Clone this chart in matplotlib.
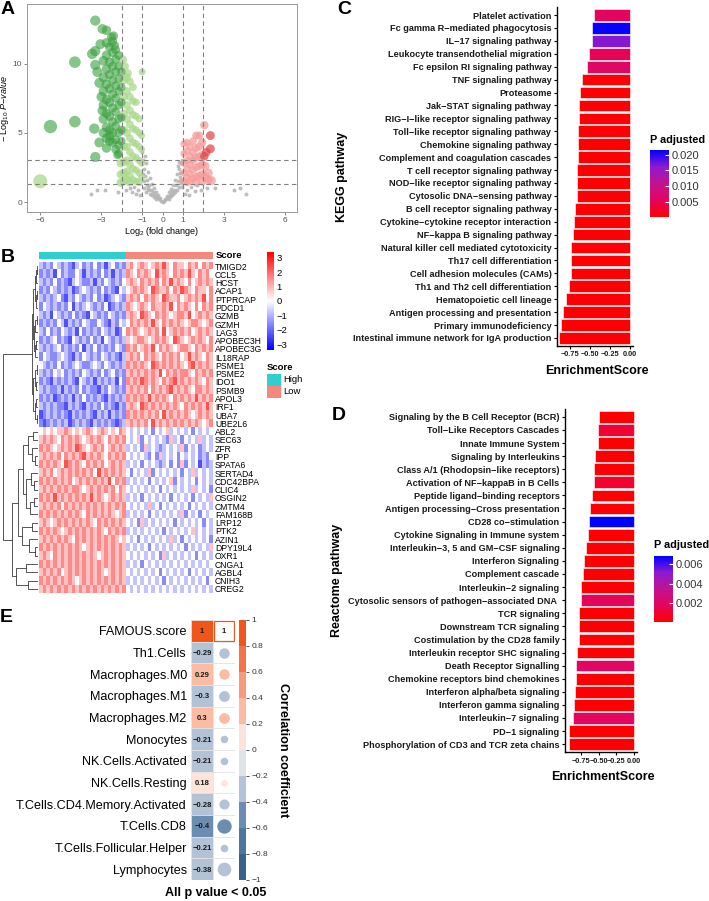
import numpy as np
import matplotlib
matplotlib.use('Agg')
import matplotlib.pyplot as plt
from matplotlib.colors import LinearSegmentedColormap, ListedColormap, Normalize, BoundaryNorm
import matplotlib.colorbar as mcolorbar
from matplotlib.patches import Rectangle

plt.rcParams['font.family'] = ['Liberation Sans', 'DejaVu Sans']
plt.rcParams['mathtext.fontset'] = 'custom'
plt.rcParams['mathtext.rm'] = 'Liberation Sans'
plt.rcParams['mathtext.it'] = 'Liberation Sans:italic'

W, H = 709, 901

# ---------------- data: A volcano ----------------
dark_x = [-3.3, -2.95, -2.75, -3.05, -3.45, -3.3, -4.3, -3.3, -3.2, -5.5, -4.3, -3.35, -3.1, -3.3, -2.95, -3.0, -3.1,
          -2.2, -2.3, -2.6, -2.5, -2.35, -2.4,
          -2.9, -2.9, -2.9, -2.9, -2.9, -2.9,
          -2.75, -2.75, -2.75, -2.75, -2.75, -2.75, -2.75, -2.75, -2.75,
          -2.6, -2.6, -2.6, -2.6, -2.6, -2.6, -2.6, -2.6,
          -2.45, -2.45, -2.45, -2.45, -2.45, -2.45, -2.45, -2.45, -2.45,
          -2.3, -2.3, -2.3, -2.3, -2.3, -2.3, -2.3, -2.3,
          -2.15, -2.15, -2.15, -2.15, -2.15, -2.15, -2.15, -2.15, -2.15,
          -2.02, -2.02, -2.02, -2.02, -2.02, -2.02]
dark_y = [13.1, 12.5, 12.4, 11.4, 10.7, 10.9, 10.1, 9.9, 9.4, 5.45, 5.8, 5.3, 4.3, 3.25, 6.6, 7.6, 8.6,
          3.4, 3.8, 4.4, 11.9, 11.3, 12.0,
          10.2, 9.0, 8.0, 7.0, 6.0, 5.0,
          11.5, 10.6, 9.6, 8.5, 7.4, 6.4, 5.4, 4.6, 3.9,
          11.2, 10.1, 9.2, 8.2, 7.2, 6.2, 5.2, 4.8,
          11.6, 10.8, 9.8, 8.8, 7.8, 6.8, 5.8, 5.0, 4.3,
          11.0, 10.3, 9.4, 8.4, 7.5, 6.5, 5.5, 4.5,
          10.6, 9.8, 8.9, 8.0, 7.0, 6.0, 5.0, 4.1, 3.5,
          9.4, 8.3, 7.2, 6.1, 5.2, 4.4]
light_x = [-6.0, -1.95, -1.0, -1.85, -1.7,
           -1.9, -1.9, -1.9, -1.9, -1.9, -1.9, -1.9, -1.9,
           -1.75, -1.75, -1.75, -1.75, -1.75, -1.75, -1.75, -1.75, -1.75,
           -1.6, -1.6, -1.6, -1.6, -1.6, -1.6, -1.6, -1.6, -1.6,
           -1.45, -1.45, -1.45, -1.45, -1.45, -1.45, -1.45, -1.45,
           -1.3, -1.3, -1.3, -1.3, -1.3, -1.3, -1.3,
           -1.15, -1.15, -1.15, -1.15, -1.15, -1.15,
           -1.03, -1.03, -1.03, -1.03,
           -2.05, -2.05, -2.05]
light_y = [1.5, 10.3, 9.4, 9.8, 9.3,
           8.8, 7.6, 6.4, 5.2, 4.0, 2.9, 2.1, 1.5,
           9.0, 8.0, 7.0, 6.0, 5.0, 4.0, 3.0, 2.2, 1.6,
           8.7, 7.6, 6.6, 5.6, 4.6, 3.6, 2.7, 1.9, 1.4,
           8.3, 7.3, 6.3, 5.3, 4.3, 3.3, 2.4, 1.6,
           7.2, 6.2, 5.2, 4.2, 3.2, 2.3, 1.5,
           6.0, 5.0, 4.0, 3.0, 2.1, 1.4,
           4.8, 3.8, 2.8, 1.8,
           2.8, 2.0, 1.4]
grey_x = [-1.0, -0.95, -0.9, -0.85, -0.8, -0.75, -0.7, -0.65, -0.6, -0.55, -0.5, -0.45, -0.4, -0.35, -0.3,
          -0.25, -0.2, -0.15, -0.1, -0.05, 0.0, 0.05, 0.1, 0.15, 0.2, 0.25, 0.3, 0.35, 0.4, 0.45, 0.5,
          0.55, 0.6, 0.65, 0.7, 0.75, 0.8, 0.85, 0.9, 0.95, 0.98,
          -0.9, -0.8, -0.7, -0.6, -0.5, -0.4, -0.3, 0.3, 0.4, 0.5, 0.6, 0.7, 0.8, 0.9,
          -0.97, -0.92, -0.88, -0.78, -0.72, 0.75, 0.82, 0.88, 0.93, 0.96,
          -1.2, -1.4, -1.6, -1.3, -1.8, -1.1, -1.5, 1.2, 1.4, 1.6, 1.9, 2.2, 1.1, 1.3, 1.7,
          -3.2, -2.8, -2.2, -3.5, 2.6, 3.5, 3.8, 4.1]
grey_y = [3.6, 3.0, 2.4, 1.9, 2.8, 1.6, 2.2, 1.2, 1.7, 0.9, 1.3, 0.7, 1.0, 0.5, 0.7,
          0.35, 0.5, 0.2, 0.3, 0.1, 0.02, 0.1, 0.25, 0.2, 0.45, 0.35, 0.7, 0.5, 0.95, 0.7, 1.25,
          0.9, 1.6, 1.2, 2.0, 1.5, 2.4, 1.8, 2.8, 2.2, 3.0,
          1.0, 0.7, 0.9, 0.6, 0.5, 0.35, 0.25, 0.25, 0.4, 0.55, 0.75, 0.9, 1.1, 1.4,
          2.0, 1.5, 3.3, 1.2, 1.0, 2.6, 2.9, 2.1, 1.6, 1.1,
          0.9, 1.1, 1.0, 0.6, 0.85, 0.5, 0.7, 0.9, 1.1, 0.8, 0.9, 1.0, 0.6, 0.5, 1.2,
          0.85, 0.9, 0.7, 0.6, 1.0, 0.85, 1.0, 0.6]
pink_x = [1.05, 1.05, 1.05, 1.05, 1.05, 1.2, 1.2, 1.2, 1.2, 1.2, 1.2,
          1.35, 1.35, 1.35, 1.35, 1.35, 1.5, 1.5, 1.5, 1.5, 1.5,
          1.65, 1.65, 1.65, 1.65, 1.65, 1.65, 1.8, 1.8, 1.8, 1.8, 1.8,
          1.95, 1.95, 1.95, 1.95, 1.95, 2.1, 2.1, 2.25, 2.25, 2.4, 2.05]
pink_y = [4.2, 3.5, 2.8, 2.1, 1.5, 4.3, 3.7, 3.0, 2.4, 1.8, 1.4,
          4.0, 3.3, 2.7, 2.0, 1.5, 4.4, 3.6, 3.0, 2.3, 1.7,
          4.8, 3.9, 3.2, 2.5, 1.8, 1.4, 4.8, 4.0, 3.3, 2.6, 1.9,
          4.3, 3.4, 2.7, 2.0, 1.5, 2.6, 1.8, 2.1, 1.6, 1.55, 5.55]
red_x = [2.35, 2.35, 2.15, 2.05]
red_y = [4.8, 3.85, 3.6, 3.3]

# ---------------- data: B heatmap ----------------
genes = ['TMIGD2', 'CCL5', 'HCST', 'ACAP1', 'PTPRCAP', 'PDCD1', 'GZMB', 'GZMH', 'LAG3', 'APOBEC3H',
         'APOBEC3G', 'IL18RAP', 'PSME1', 'PSME2', 'IDO1', 'PSMB9', 'APOL3', 'IRF1', 'UBA7', 'UBE2L6',
         'ABL2', 'SEC63', 'ZFR', 'IPP', 'SPATA6', 'SERTAD4', 'CDC42BPA', 'CLIC4', 'OSGIN2', 'CMTM4',
         'FAM168B', 'LRP12', 'PTK2', 'AZIN1', 'DPY19L4', 'OXR1', 'CNGA1', 'AGBL4', 'CNIH3', 'CREG2']
# levels 0..8 -> z-score (d-4)*0.75 ; left half = High score, right half = Low score
expr_rows = [
    "3232 4323 2134 2324 2313 4232 | 5645 6545 6575 4655 4656 4656",
    "2323 1423 2243 1323 2423 1323 | 6546 5654 7565 4656 5754 6564",
    "3232 4232 1343 2231 3243 2324 | 5654 6565 6465 7565 4645 6565",
    "2324 3232 3123 4323 2423 2143 | 4565 6547 6556 4657 6546 5546",
    "3232 3421 3243 2324 2312 3432 | 5656 4656 5476 5564 5656 5746",
    "2432 3232 4132 3432 3241 2323 | 6545 6546 5565 7465 6546 4656",
    "3231 4323 2423 2143 2324 3232 | 5654 7654 6565 4566 5745 6565",
    "2323 2431 3232 4322 4321 3243 | 4656 5657 5465 6565 4566 5456",
    "3242 3243 2314 2323 2432 3124 | 6565 4565 6474 5656 5645 6565",
    "2323 4232 1432 3242 3143 2323 | 5456 6545 6565 4765 4565 6546",
    "3232 3423 2324 1324 2323 2432 | 6564 5657 4656 5456 6546 5656",
    "2432 2343 2132 4323 2432 3213 | 5656 4656 5465 6564 5756 5465",
    "4323 2423 2343 2234 3243 2323 | 6565 6547 6565 6565 4675 6565",
    "3232 4342 3232 4323 2423 4232 | 5656 5656 5746 5656 6546 5656",
    "2321 3232 3214 3231 3232 3142 | 6565 7656 5465 6756 5656 5465",
    "3232 2313 2324 2322 1324 3232 | 5656 5646 5656 7565 6546 6565",
    "2323 1232 3132 4232 3213 2323 | 6565 6575 6565 4656 5657 5656",
    "3232 3221 3232 1323 2423 2132 | 5654 7656 5656 5654 6565 6575",
    "1232 3232 1323 2321 3231 3232 | 6565 6565 6475 6565 6545 6565",
    "2123 2323 1232 3213 2323 2123 | 5656 5647 5656 5656 5656 5456",
    "4545 4556 5454 5654 5654 5465 | 4343 4342 4345 3434 3424 3434",
    "5656 5465 6565 4565 6546 5656 | 4345 2434 3432 5342 4343 5343",
    "6565 4565 6576 5456 5645 6565 | 3434 2534 3234 3435 2434 2343",
    "5656 5646 5656 7565 6546 5656 | 4343 4324 2534 3424 3434 2324",
    "6565 6547 6565 4656 5645 6565 | 3434 2434 3234 2425 2434 1323",
    "5656 4565 6565 6564 7565 6565 | 4243 4352 4343 4342 4353 4343",
    "6565 6565 6456 5656 5657 4656 | 3434 3424 3434 5243 4342 4343",
    "5656 5656 5665 4565 6565 6465 | 4343 4343 4243 4343 4353 4342",
    "6565 7565 6565 6575 6545 6565 | 3434 2434 3434 2434 3424 3435",
    "5656 5646 5656 5656 5656 5656 | 4343 4353 4243 4343 4243 4343",
    "6565 6565 6565 4656 5656 5456 | 3434 3424 3434 3435 2434 2434",
    "5654 5656 5656 5654 6565 6565 | 4342 5343 4343 4243 4343 4243",
    "6565 6545 6565 6565 6546 5656 | 3434 3434 3424 3434 3453 4343",
    "5656 5656 5465 6565 6565 6545 | 4342 4343 4343 5342 4343 4342",
    "6565 6565 6565 4565 6565 6565 | 3434 3424 3434 3434 2434 3435",
    "5654 6565 6565 6565 4565 6565 | 4343 4343 4253 4343 4342 4343",
    "6565 6565 6565 6565 6565 6565 | 3434 2434 3434 3434 3434 3434",
    "5656 5645 6565 6565 6545 6565 | 4343 4343 4243 4343 4243 4343",
    "6565 6565 6545 6565 6565 6565 | 3434 3434 3424 3434 3434 3424",
    "5656 5656 5656 5656 5656 5656 | 4343 4343 4343 4343 4343 4343",
]
score_groups = ['High', 'Low']
score_colors = ['#2ECFCF', '#F6877C']
n_high = 24
# gene dendrogram: (height, left, right), leaves are row indices
gene_tree = (1.0,
             (0.17,
              (0.14, (0.10, (0.06, (0.03, 0, 1), 2), (0.07, (0.04, 3, 4), 5)),
               (0.12, (0.08, (0.04, 6, 7), 8), (0.09, (0.05, 9, 10), 11))),
              (0.13, (0.08, (0.04, 12, 13), (0.05, 14, 15)), (0.10, (0.06, 16, 17), (0.04, 18, 19)))),
             (0.74,
              (0.57,
               (0.42, (0.28, (0.14, 20, 21), (0.18, 22, (0.09, 23, 24))),
                (0.33, (0.20, 25, (0.11, 26, 27)), (0.22, (0.12, 28, 29), 30))),
               (0.45, (0.16, 31, 32), (0.25, 33, (0.10, 34, 35)))),
              (0.62, (0.35, 36, 37), (0.28, 38, 39))))

# ---------------- data: C KEGG ----------------
kegg_terms = ['Platelet activation', 'Fc gamma R\u2212mediated phagocytosis', 'IL\u221217 signaling pathway',
              'Leukocyte transendothelial migration', 'Fc epsilon RI signaling pathway', 'TNF signaling pathway',
              'Proteasome', 'Jak\u2212STAT signaling pathway', 'RIG\u2212I\u2212like receptor signaling pathway',
              'Toll\u2212like receptor signaling pathway', 'Chemokine signaling pathway',
              'Complement and coagulation cascades', 'T cell receptor signaling pathway',
              'NOD\u2212like receptor signaling pathway', 'Cytosolic DNA\u2212sensing pathway',
              'B cell receptor signaling pathway', 'Cytokine\u2212cytokine receptor interaction',
              'NF\u2212kappa B signaling pathway', 'Natural killer cell mediated cytotoxicity',
              'Th17 cell differentiation', 'Cell adhesion molecules (CAMs)', 'Th1 and Th2 cell differentiation',
              'Hematopoietic cell lineage', 'Antigen processing and presentation', 'Primary immunodeficiency',
              'Intestinal immune network for IgA production']
kegg_es = [-0.45, -0.47, -0.475, -0.51, -0.53, -0.60, -0.625, -0.63, -0.64, -0.645, -0.645, -0.65, -0.66,
           -0.66, -0.66, -0.68, -0.695, -0.715, -0.73, -0.735, -0.74, -0.76, -0.80, -0.83, -0.86, -0.885]
kegg_padj = [0.0055, 0.0212, 0.0165, 0.0050, 0.0062, 0.0006, 0.0005, 0.0006, 0.0005, 0.0005, 0.0005, 0.0006,
             0.0005, 0.0005, 0.0006, 0.0005, 0.0005, 0.0005, 0.0005, 0.0005, 0.0005, 0.0005, 0.0005, 0.0005,
             0.0005, 0.0005]

# ---------------- data: D Reactome ----------------
react_terms = ['Signaling by the B Cell Receptor (BCR)', 'Toll\u2212Like Receptors Cascades', 'Innate Immune System',
               'Signaling by Interleukins', 'Class A/1 (Rhodopsin\u2212like receptors)',
               'Activation of NF\u2212kappaB in B Cells', 'Peptide ligand\u2212binding receptors',
               'Antigen processing\u2212Cross presentation', 'CD28 co\u2212stimulation',
               'Cytokine Signaling in Immune system', 'Interleukin\u22123, 5 and GM\u2212CSF signaling',
               'Interferon Signaling', 'Complement cascade', 'Interleukin\u22122 signaling',
               'Cytosolic sensors of pathogen\u2212associated DNA ', 'TCR signaling', 'Downstream TCR signaling',
               'Costimulation by the CD28 family', 'Interleukin receptor SHC signaling', 'Death Receptor Signalling',
               'Chemokine receptors bind chemokines', 'Interferon alpha/beta signaling', 'Interferon gamma signaling',
               'Interleukin\u22127 signaling', 'PD\u22121 signaling', 'Phosphorylation of CD3 and TCR zeta chains']
react_es = [-0.49, -0.51, -0.51, -0.545, -0.565, -0.57, -0.595, -0.62, -0.63, -0.65, -0.68, -0.71, -0.72,
            -0.745, -0.75, -0.77, -0.775, -0.78, -0.80, -0.81, -0.815, -0.83, -0.845, -0.855, -0.91, -0.92]
react_padj = [0.0002, 0.0010, 0.0002, 0.0002, 0.0002, 0.0009, 0.0002, 0.0002, 0.0068, 0.0002, 0.0002, 0.0002,
              0.0002, 0.0002, 0.0017, 0.0002, 0.0002, 0.0002, 0.0002, 0.0019, 0.0002, 0.0002, 0.0002, 0.0018,
              0.0002, 0.0002]

# ---------------- data: E correlation ----------------
cells = ['FAMOUS.score', 'Th1.Cells', 'Macrophages.M0', 'Macrophages.M1', 'Macrophages.M2', 'Monocytes',
         'NK.Cells.Activated', 'NK.Cells.Resting', 'T.Cells.CD4.Memory.Activated', 'T.Cells.CD8',
         'T.Cells.Follicular.Helper', 'Lymphocytes']
corr = [1, -0.29, 0.29, -0.3, 0.3, -0.21, -0.21, 0.18, -0.28, -0.4, -0.21, -0.38]
corr_bounds = [-1, -0.8, -0.6, -0.4, -0.2, 0, 0.2, 0.4, 0.6, 0.8, 1]
corr_colors = ['#36628c', '#4a76a0', '#6b8db2', '#b3c2d5', '#e0e4e9', '#fde3da', '#fbbca3', '#f89b7b',
               '#f3734a', '#ef561b']


def box(l, t, r, b):
    return [l / W, 1 - b / H, (r - l) / W, (b - t) / H]


def ftext(x, y, s, **kw):
    fig.text(x / W, 1 - y / H, s, **kw)


fig = plt.figure(figsize=(W / 100, H / 100), dpi=100)

# ================= A =================
axA = fig.add_axes(box(27, 4, 297, 212))


def vsize(xs):
    # marker radius (px) grows with |log2 FC|; scatter wants diameter^2 in pt^2
    return [((2.8 + 0.7 * abs(v)) * 2 * 0.72) ** 2 for v in xs]


axA.scatter(grey_x, grey_y, s=8, color='#b3b3b3', alpha=0.85, lw=0)
axA.scatter(light_x, light_y, s=vsize(light_x), color='#a8d98b', alpha=0.75, lw=0)
axA.scatter(pink_x, pink_y, s=vsize(pink_x), color='#f59c9a', alpha=0.75, lw=0)
axA.scatter(dark_x, dark_y, s=vsize(dark_x), color='#38a03c', alpha=0.6, lw=0)
axA.scatter(red_x, red_y, s=vsize(red_x), color='#e34c50', alpha=0.75, lw=0)
for v in [-2, -1, 1, 2]:
    axA.axvline(v, color='#808080', ls=(0, (4, 3)), lw=0.8)
for v in [1.3, 3]:
    axA.axhline(v, color='#808080', ls=(0, (4, 3)), lw=0.8)
axA.set_xlim(-6.65, 6.6)
axA.set_ylim(-0.72, 14.3)
axA.set_xticks([-6, -3, -1, 0, 1, 3, 6])
axA.set_yticks([0, 5, 10])
axA.tick_params(labelsize=6, colors='#555555', length=2, width=0.5, pad=1.5)
for sp in axA.spines.values():
    sp.set_color('#999999')
    sp.set_linewidth(0.7)
axA.set_xlabel('Log$_2$ (fold change)', fontsize=6.5, labelpad=1)
axA.set_ylabel(r'$-$ Log$_{10}$ $\mathit{P}$$-$$\mathit{value}$', fontsize=6.5, labelpad=1)

# ================= B =================
vals = np.array([[(int(c) - 4) * 0.75 for c in r.replace(' ', '').replace('|', '')] for r in expr_rows])
n_samp = vals.shape[1]
hm_cmap = LinearSegmentedColormap.from_list('bwr2', ['#0000ff', '#ffffff', '#ff0000'])

axS = fig.add_axes(box(39, 252, 213, 259))
grp = np.array([[0] * n_high + [1] * (n_samp - n_high)])
axS.imshow(grp, cmap=ListedColormap(score_colors), aspect='auto', interpolation='nearest')
axS.axis('off')
ftext(216, 256, 'Score', fontsize=6.8, fontweight='bold', va='center')

axH = fig.add_axes(box(39, 262, 213, 593))
axH.imshow(vals, cmap=hm_cmap, vmin=-3.3, vmax=3.3, aspect='auto', interpolation='nearest')
axH.yaxis.tick_right()
axH.set_yticks(range(len(genes)))
axH.set_yticklabels(genes, fontsize=6.2)
axH.tick_params(length=0, pad=1.5)
axH.set_xticks([])
for sp in axH.spines.values():
    sp.set_visible(False)

axDg = fig.add_axes(box(2, 262, 38, 593))


def draw_tree(ax, node):
    if isinstance(node, int):
        return node, 0.0
    h, l, r = node
    yl, hl = draw_tree(ax, l)
    yr, hr = draw_tree(ax, r)
    ax.plot([hl, h, h, hr], [yl, yl, yr, yr], color='#3a3a3a', lw=0.6)
    return (yl + yr) / 2, h


draw_tree(axDg, gene_tree)
axDg.set_xlim(1.03, 0)
axDg.set_ylim(len(genes) - 0.5, -0.5)
axDg.axis('off')

axHc = fig.add_axes(box(267, 252, 274, 350))
cb = mcolorbar.ColorbarBase(axHc, cmap=hm_cmap, norm=Normalize(-3.4, 3.4), ticks=[-3, -2, -1, 0, 1, 2, 3])
cb.outline.set_visible(False)
cb.ax.set_yticklabels(['\u22123', '\u22122', '\u22121', '0', '1', '2', '3'])
axHc.tick_params(labelsize=6.8, length=0, pad=2)

ftext(267, 368, 'Score', fontsize=6.8, fontweight='bold', va='center')
axLg = fig.add_axes(box(267, 374, 310, 398))
for i, (g, c) in enumerate(zip(score_groups, score_colors)):
    axLg.add_patch(Rectangle((0, i), 0.3, 1, color=c))
    axLg.text(0.38, i + 0.5, g, fontsize=6.8, va='center')
axLg.set_xlim(0, 1)
axLg.set_ylim(2, 0)
axLg.axis('off')

# ================= C / D =================
p_cmap = LinearSegmentedColormap.from_list('padj', ['#ff0000', '#e3055e', '#c2128f', '#8e1ad0', '#0000ff'])


def enrich_panel(rect, terms, es, padj, xlim, vmin, vmax, ylab, cbrect, cbticks, cbtitle_xy, xlab_y):
    ax = fig.add_axes(box(*rect))
    norm = Normalize(vmin, vmax)
    y = np.arange(len(terms))
    ax.barh(y, es, height=0.9, color=p_cmap(norm(np.array(padj))), edgecolor='white', lw=0.4)
    ax.set_ylim(len(terms) - 0.4, -0.6)
    ax.set_xlim(*xlim)
    ax.set_yticks(y)
    ax.set_yticklabels(terms, fontsize=6.6, fontweight='bold', color='#1a1a1a')
    ax.set_xticks([-0.75, -0.5, -0.25, 0])
    ax.set_xticklabels(['\u22120.75', '\u22120.50', '\u22120.25', '0.00'], fontsize=5.3, fontweight='bold',
                       color='#1a1a1a')
    ax.tick_params(length=2.5, width=0.8, pad=1.5)
    ax.tick_params(axis='x', pad=1.5)
    for s in ['top', 'right']:
        ax.spines[s].set_visible(False)
    for s in ['left', 'bottom']:
        ax.spines[s].set_linewidth(1.0)
    ax.set_ylabel(ylab, fontsize=9, fontweight='bold', labelpad=4)
    ftext((rect[0] + rect[2]) / 2 + 2, xlab_y, 'EnrichmentScore', fontsize=9, fontweight='bold',
          ha='center', va='center')
    cax = fig.add_axes(box(*cbrect))
    cbar = mcolorbar.ColorbarBase(cax, cmap=p_cmap, norm=norm, ticks=cbticks)
    cbar.outline.set_visible(False)
    cax.set_yticklabels(['%.3f' % t for t in cbticks])
    cax.tick_params(labelsize=8, length=3, color='white', direction='in', pad=2, labelcolor='#333333')
    ftext(cbtitle_xy[0], cbtitle_xy[1], 'P adjusted', fontsize=7.8, fontweight='bold', va='center')
    return ax


enrich_panel((557, 7.3, 633, 345.7), kegg_terms, kegg_es, kegg_padj, (-0.91, 0.04), 0.0002, 0.0215,
             'KEGG pathway', (650, 150, 669, 217), [0.005, 0.010, 0.015, 0.020], (650, 140), 371)
enrich_panel((565, 409, 637, 752), react_terms, react_es, react_padj, (-0.97, 0.04), 0.0001, 0.0068,
             'Reactome pathway', (654, 556, 673, 622), [0.002, 0.004, 0.006], (654, 545), 777)

# ================= E =================
axE = fig.add_axes(box(191, 620, 235, 880))
bins = np.digitize(corr, corr_bounds, right=True) - 1
bins = np.clip(bins, 0, len(corr_colors) - 1)
n = len(cells)
for i in range(n):
    c = corr_colors[bins[i]]
    axE.add_patch(Rectangle((0, i), 1, 1, facecolor=c, edgecolor='#e6e6e6', lw=0.5))
    txt = '1' if corr[i] == 1 else ('%g' % corr[i]).replace('-', '\u2212')
    axE.text(0.5, i + 0.55, txt, fontsize=5.5, fontweight='bold', ha='center', va='center', color='#1a1a1a')
    if i == 0:
        axE.add_patch(Rectangle((1.03, 0.04), 0.94, 0.92, facecolor='white', edgecolor=c, lw=0.9))
        axE.text(1.5, 0.55, '1', fontsize=5.5, fontweight='bold', ha='center', va='center', color='#1a1a1a')
    else:
        axE.add_patch(Rectangle((1, i), 1, 1, facecolor='white', edgecolor='#e0e0e0', lw=0.5))
        d = 36 * abs(corr[i]) * 0.72
        axE.scatter([1.5], [i + 0.5], s=d ** 2, color=c, lw=0, zorder=3)
axE.set_xlim(0, 2)
axE.set_ylim(n, 0)
axE.set_yticks(np.arange(n) + 0.5)
axE.set_yticklabels(cells, fontsize=9.1)
axE.set_xticks([])
axE.tick_params(length=0, pad=3)
for sp in axE.spines.values():
    sp.set_visible(False)

axEc = fig.add_axes(box(239, 620, 246, 880))
cbE = mcolorbar.ColorbarBase(axEc, cmap=ListedColormap(corr_colors), norm=BoundaryNorm(corr_bounds, 10),
                             ticks=corr_bounds)
cbE.outline.set_visible(False)
axEc.set_yticklabels([('%g' % t).replace('-', '\u2212') for t in corr_bounds])
axEc.tick_params(labelsize=6, length=2, width=0.6, color='#333333', pad=2, labelcolor='#333333')
ftext(283, 750, 'Correlation coefficient', fontsize=9.1, fontweight='bold', rotation=-90,
      ha='center', va='center')
ftext(216, 893, 'All p value < 0.05', fontsize=9, fontweight='bold', ha='center', va='center')

# panel letters
for lab, x, y in [('A', 1, 10), ('B', 1, 257), ('C', 337, 10), ('D', 332, 415), ('E', 0, 617)]:
    ftext(x, y, lab, fontsize=14, fontweight='bold', va='center')

fig.savefig('out.png', dpi=100)
